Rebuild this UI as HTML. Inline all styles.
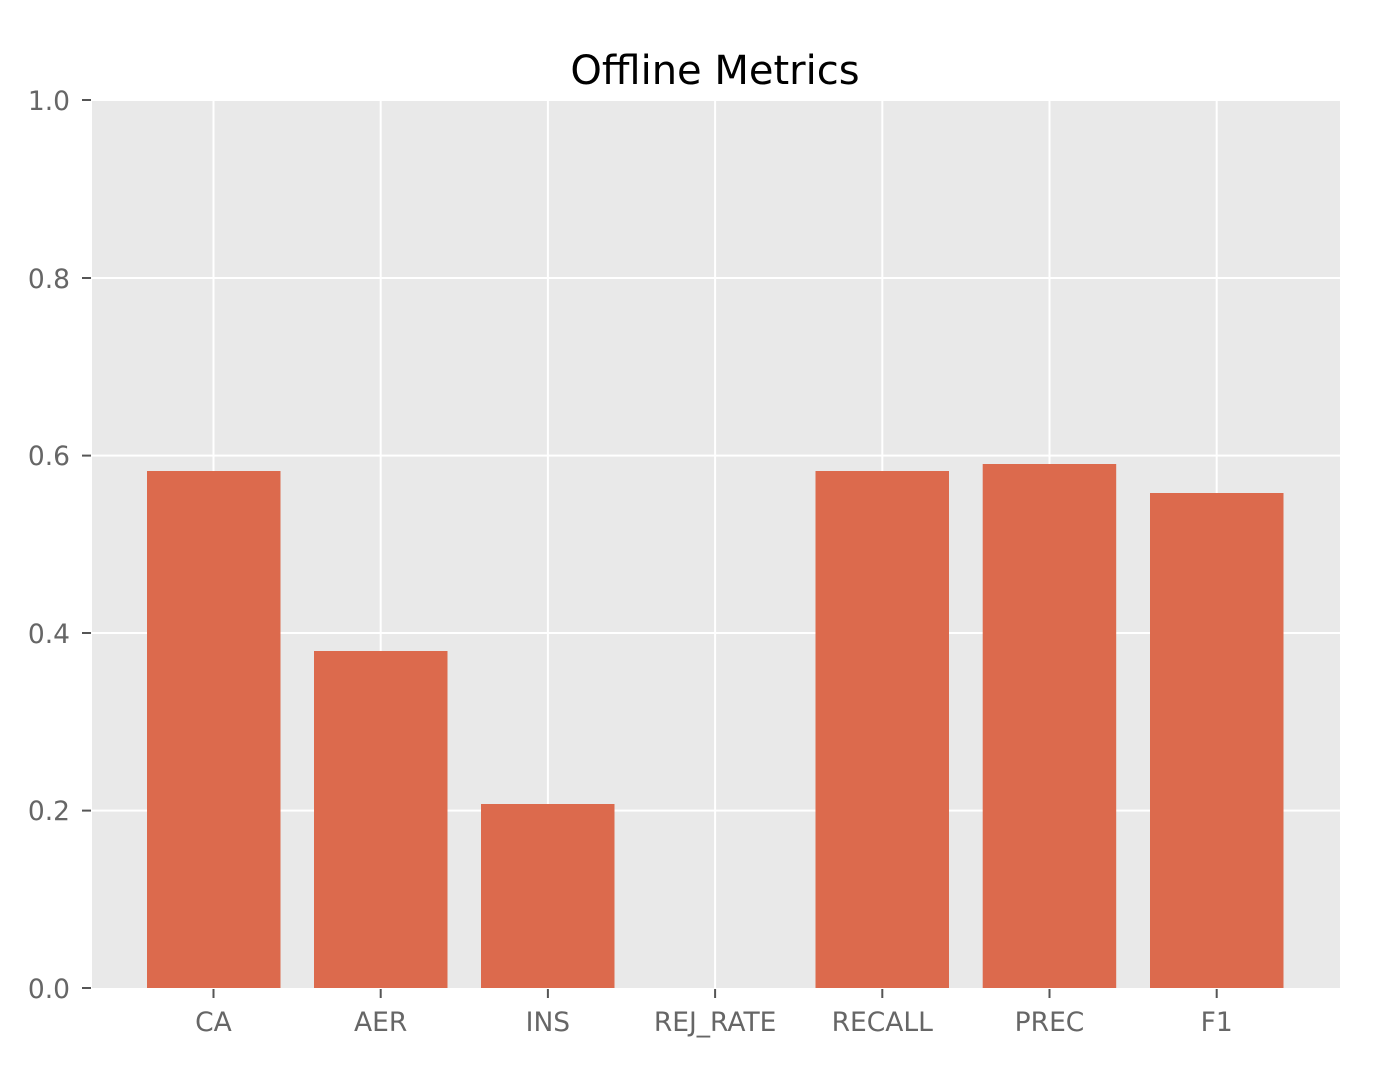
<!DOCTYPE html>
<html><head><style>body{margin:0;background:#fff}</style></head><body>
<svg width="1390" height="1066" xmlns="http://www.w3.org/2000/svg" font-family="'DejaVu Sans', 'Liberation Sans', sans-serif">
<rect x="92" y="100" width="1248" height="888" fill="#e9e9e9"/>
<g stroke="#fff" stroke-width="2">
<line x1="92" x2="1340" y1="100" y2="100"/><line x1="92" x2="1340" y1="278" y2="278"/><line x1="92" x2="1340" y1="455.6" y2="455.6"/><line x1="92" x2="1340" y1="633" y2="633"/><line x1="92" x2="1340" y1="810.6" y2="810.6"/>
<line y1="100" y2="988" x1="213.5" x2="213.5"/><line y1="100" y2="988" x1="380.7" x2="380.7"/><line y1="100" y2="988" x1="547.9" x2="547.9"/><line y1="100" y2="988" x1="715.1" x2="715.1"/><line y1="100" y2="988" x1="882.3" x2="882.3"/><line y1="100" y2="988" x1="1049.5" x2="1049.5"/><line y1="100" y2="988" x1="1216.7" x2="1216.7"/>
</g>
<g fill="#dc6a4d">
<rect x="147" y="471" width="133.5" height="517"/>
<rect x="314" y="651" width="133.5" height="337"/>
<rect x="481" y="804" width="133.5" height="184"/>
<rect x="815.5" y="471" width="133.5" height="517"/>
<rect x="982.7" y="464" width="133.5" height="524"/>
<rect x="1150" y="493" width="133.5" height="495"/>
</g>
<g stroke="#555" stroke-width="2">
<line x1="82" x2="91" y1="100" y2="100"/><line x1="82" x2="91" y1="278" y2="278"/><line x1="82" x2="91" y1="455.6" y2="455.6"/><line x1="82" x2="91" y1="633" y2="633"/><line x1="82" x2="91" y1="810.6" y2="810.6"/><line x1="82" x2="91" y1="988" y2="988"/>
<line y1="989" y2="998" x1="213.5" x2="213.5"/><line y1="989" y2="998" x1="380.7" x2="380.7"/><line y1="989" y2="998" x1="547.9" x2="547.9"/><line y1="989" y2="998" x1="715.1" x2="715.1"/><line y1="989" y2="998" x1="882.3" x2="882.3"/><line y1="989" y2="998" x1="1049.5" x2="1049.5"/><line y1="989" y2="998" x1="1216.7" x2="1216.7"/>
</g>
<g fill="#666" font-size="26.5" text-anchor="end">
<text x="70" y="110">1.0</text><text x="70" y="288">0.8</text><text x="70" y="465">0.6</text><text x="70" y="643">0.4</text><text x="70" y="820">0.2</text><text x="70" y="998">0.0</text>
</g>
<g fill="#666" font-size="26.5" text-anchor="middle">
<text x="213.5" y="1031">CA</text><text x="380.7" y="1031">AER</text><text x="547.9" y="1031">INS</text><text x="715.1" y="1031">REJ_RATE</text><text x="882.3" y="1031">RECALL</text><text x="1049.5" y="1031">PREC</text><text x="1216.7" y="1031">F1</text>
</g>
<text x="715" y="84" font-size="40" text-anchor="middle" fill="#000">Offline Metrics</text>
</svg>
</body></html>
